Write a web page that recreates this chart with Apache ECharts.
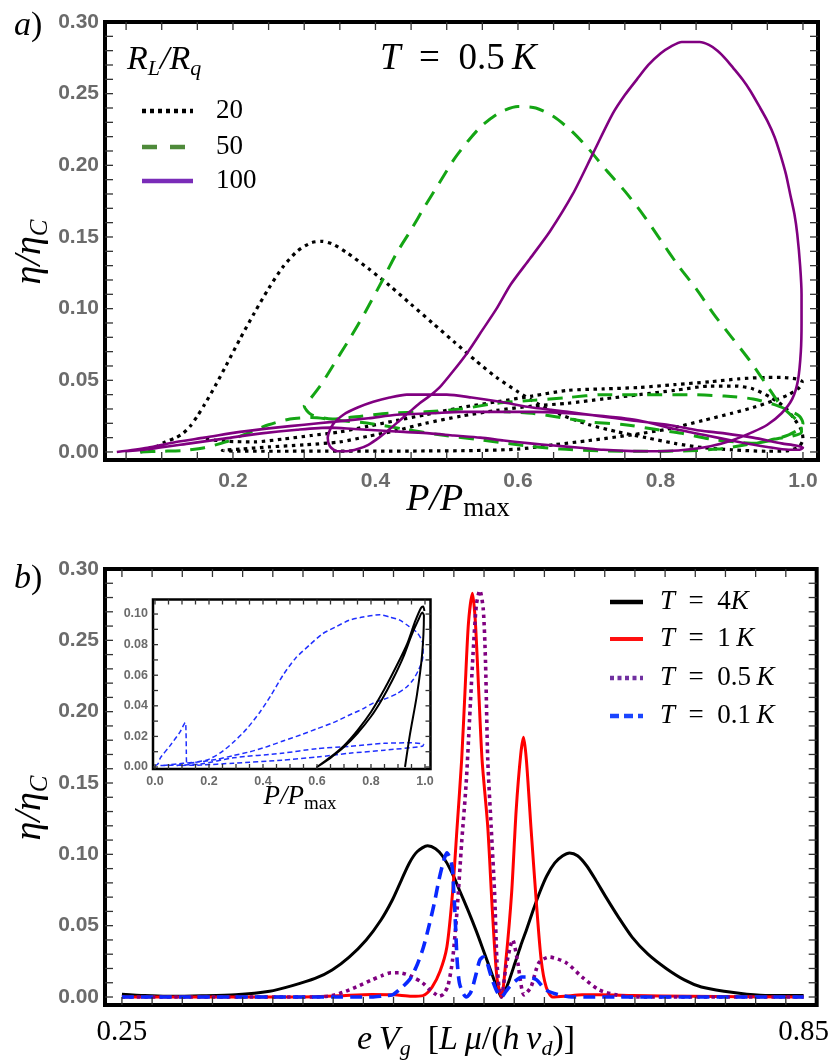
<!DOCTYPE html>
<html>
<head>
	<meta charset="utf-8">
	<title>eta vs P</title>
	<style type="text/css">
		html, body { margin: 0; padding: 0; background: #fff; }
		#main { width: 832px; height: 1063px; }
	</style>
	<script src="https://cdn.jsdelivr.net/npm/echarts@6/dist/echarts.min.js"></script>
</head>
<body>
	<div id="main"></div>
	<script type="text/javascript">

	// ---- panel a : eta/eta_C vs P/Pmax, T = 0.5 K ----
	var r20 = [
		[0.07,0.0],[0.09,0.003],[0.105,0.007],[0.12,0.010],[0.13,0.013],[0.14,0.018],[0.15,0.025],[0.16,0.033],
		[0.175,0.046],[0.19,0.060],[0.21,0.079],[0.23,0.097],[0.25,0.114],[0.27,0.129],[0.29,0.140],[0.31,0.146],
		[0.325,0.147],[0.34,0.145],[0.36,0.139],[0.39,0.128],[0.42,0.116],[0.45,0.103],[0.48,0.090],[0.51,0.077],
		[0.54,0.064],[0.57,0.052],[0.60,0.042],[0.63,0.033],[0.66,0.026],[0.70,0.019],[0.74,0.014],[0.78,0.010],
		[0.82,0.006],[0.86,0.003],[0.90,0.0015],[0.95,0.0005],[0.98,0.001],[0.995,0.004],[1.0,0.009],[0.998,0.015],
		[0.988,0.023],[0.975,0.031],[0.955,0.038],[0.93,0.044],[0.905,0.046],[0.87,0.046],[0.82,0.043],[0.77,0.040],
		[0.72,0.037],[0.67,0.034],[0.62,0.032],[0.57,0.029],[0.52,0.025],[0.47,0.020],[0.43,0.015],[0.39,0.011],
		[0.35,0.007],[0.30,0.005],[0.25,0.0035],[0.21,0.002],[0.185,0.001],[0.20,0.0006],[0.26,0.0005],[0.33,0.0006],
		[0.40,0.0006],[0.47,0.0007],[0.54,0.001],[0.60,0.002],[0.65,0.005],[0.70,0.008],[0.76,0.012],[0.81,0.016],
		[0.86,0.022],[0.90,0.027],[0.93,0.031],[0.96,0.036],[0.98,0.040],[0.995,0.045],[0.999,0.049],[0.99,0.051],
		[0.97,0.052],[0.95,0.052],[0.91,0.051],[0.87,0.049],[0.82,0.047],[0.77,0.045],[0.72,0.044],[0.67,0.043],
		[0.62,0.039],[0.57,0.035],[0.52,0.031],[0.47,0.026],[0.43,0.022],[0.39,0.018],[0.35,0.014],[0.31,0.0115],
		[0.27,0.009],[0.23,0.007],[0.19,0.0075],[0.16,0.009]
	];
	var r50 = [
		[0.07,0.0],[0.10,0.0005],[0.13,0.001],[0.16,0.003],[0.19,0.007],[0.22,0.013],[0.25,0.019],[0.28,0.023],
		[0.31,0.024],[0.35,0.022],[0.39,0.020],[0.44,0.016],[0.49,0.012],[0.54,0.009],[0.60,0.005],[0.66,0.002],
		[0.72,0.0008],[0.78,0.0005],[0.84,0.0008],[0.88,0.002],[0.92,0.005],[0.955,0.008],[0.98,0.012],[0.995,0.016],
		[1.0,0.020],[0.995,0.025],[0.98,0.029],[0.96,0.033],[0.93,0.037],[0.89,0.039],[0.84,0.040],[0.78,0.040],
		[0.72,0.040],[0.67,0.038],[0.62,0.036],[0.57,0.034],[0.52,0.030],[0.47,0.028],[0.42,0.027],[0.38,0.025],
		[0.34,0.023],[0.31,0.026],[0.30,0.032],[0.31,0.038],[0.325,0.048],[0.345,0.064],[0.365,0.080],[0.385,0.097],
		[0.41,0.120],[0.43,0.139],[0.45,0.155],[0.47,0.172],[0.49,0.188],[0.51,0.204],[0.53,0.217],[0.55,0.228],
		[0.575,0.237],[0.60,0.241],[0.625,0.240],[0.65,0.234],[0.675,0.224],[0.70,0.211],[0.725,0.196],[0.75,0.182],
		[0.775,0.166],[0.80,0.148],[0.825,0.130],[0.85,0.114],[0.875,0.096],[0.90,0.080],[0.925,0.064],[0.95,0.046],
		[0.968,0.033],[0.985,0.025],[0.996,0.020],[0.998,0.014],[0.985,0.011],[0.96,0.009],[0.935,0.006],[0.905,0.007],
		[0.87,0.009],[0.83,0.013],[0.79,0.016],[0.75,0.019],[0.70,0.021],[0.66,0.024],[0.62,0.027],[0.58,0.028]
	];
	var r100 = [
		[0.037,0.0],[0.08,0.003],[0.12,0.007],[0.16,0.010],[0.21,0.014],[0.26,0.017],[0.30,0.019],[0.34,0.021],
		[0.39,0.0235],[0.43,0.026],[0.48,0.027],[0.52,0.028],[0.57,0.028],[0.62,0.028],[0.67,0.027],[0.72,0.025],
		[0.77,0.022],[0.82,0.016],[0.86,0.012],[0.91,0.007],[0.95,0.0035],[0.98,0.0015],[0.995,0.0015],[1.0,0.003],
		[0.99,0.0045],[0.97,0.006],[0.93,0.010],[0.89,0.013],[0.855,0.015],[0.81,0.019],[0.76,0.022],[0.715,0.025],
		[0.67,0.028],[0.62,0.031],[0.575,0.035],[0.535,0.038],[0.50,0.040],[0.47,0.040],[0.444,0.040],[0.42,0.038],
		[0.397,0.035],[0.375,0.031],[0.355,0.026],[0.34,0.019],[0.333,0.010],[0.336,0.004],[0.346,0.0005],[0.36,0.0005],
		[0.375,0.002],[0.39,0.005],[0.405,0.010],[0.42,0.016],[0.434,0.022],[0.448,0.028],[0.462,0.034],[0.476,0.039],
		[0.49,0.045],[0.51,0.057],[0.53,0.070],[0.55,0.085],[0.57,0.100],[0.59,0.117],[0.617,0.135],[0.645,0.154],
		[0.677,0.180],[0.705,0.208],[0.733,0.236],[0.75,0.249],[0.767,0.260],[0.783,0.270],[0.80,0.278],[0.815,0.283],
		[0.83,0.286],[0.855,0.286],[0.868,0.284],[0.88,0.280],[0.892,0.274],[0.902,0.268],[0.915,0.260],[0.926,0.252],
		[0.94,0.240],[0.95,0.231],[0.96,0.220],[0.968,0.208],[0.976,0.194],[0.982,0.180],[0.988,0.166],[0.992,0.152],
		[0.996,0.130],[0.998,0.110],[0.998,0.090],[0.997,0.070],[0.993,0.050],[0.985,0.037],[0.97,0.027],[0.95,0.019],
		[0.93,0.014],[0.90,0.008],[0.87,0.004],[0.835,0.0015],[0.80,0.0005],[0.76,0.0006],[0.72,0.0015],[0.687,0.003],
		[0.65,0.0045],[0.617,0.006],[0.58,0.008],[0.547,0.010],[0.51,0.0115],[0.476,0.013],[0.44,0.014],[0.406,0.015],
		[0.37,0.016],[0.336,0.017],[0.29,0.0155],[0.24,0.013],[0.19,0.0095],[0.14,0.006],[0.09,0.0025],[0.05,0.0005]
	];

	// ---- panel b : eta/eta_C vs e Vg ----
	var t4K = [
		[0.25,0.002],[0.27,0.001],[0.29,0.0005],[0.32,0.0008],[0.35,0.0015],[0.38,0.004],[0.40,0.008],[0.42,0.013],
		[0.435,0.019],[0.45,0.028],[0.465,0.040],[0.478,0.054],[0.488,0.068],[0.496,0.082],[0.503,0.094],[0.51,0.102],
		[0.519,0.106],[0.526,0.104],[0.532,0.099],[0.54,0.088],[0.547,0.075],[0.555,0.060],[0.562,0.046],[0.568,0.033],
		[0.573,0.022],[0.578,0.011],[0.582,0.003],[0.584,0.0],[0.587,0.004],[0.591,0.012],[0.596,0.024],[0.601,0.036],
		[0.606,0.047],[0.612,0.061],[0.618,0.074],[0.624,0.085],[0.631,0.094],[0.638,0.099],[0.644,0.101],[0.651,0.099],
		[0.659,0.092],[0.667,0.082],[0.676,0.070],[0.687,0.056],[0.699,0.042],[0.713,0.030],[0.729,0.020],[0.745,0.012],
		[0.76,0.007],[0.78,0.004],[0.80,0.002],[0.82,0.001],[0.85,0.001]
	];
	var t1K = [
		[0.25,0.0],[0.40,0.0],[0.44,0.0008],[0.47,0.0018],[0.49,0.0015],[0.505,0.0005],[0.515,0.001],[0.523,0.007],
		[0.530,0.018],[0.536,0.035],[0.541,0.073],[0.545,0.119],[0.549,0.166],[0.552,0.215],[0.555,0.262],[0.5585,0.283],
		[0.561,0.264],[0.564,0.215],[0.567,0.166],[0.572,0.119],[0.576,0.061],[0.580,0.014],[0.584,0.0],[0.588,0.026],
		[0.593,0.073],[0.597,0.131],[0.601,0.170],[0.6035,0.182],[0.606,0.166],[0.610,0.119],[0.6146,0.068],[0.619,0.026],
		[0.6234,0.007],[0.629,0.0],[0.64,0.0005],[0.655,0.0015],[0.67,0.0015],[0.70,0.001],[0.75,0.0005],[0.85,0.0]
	];
	var t05K = [
		[0.25,0.0],[0.42,0.0],[0.435,0.001],[0.447,0.004],[0.459,0.008],[0.47,0.012],[0.479,0.015],[0.487,0.017],
		[0.494,0.017],[0.50,0.016],[0.506,0.014],[0.5145,0.010],[0.521,0.005],[0.526,0.002],[0.529,0.0005],[0.533,0.002],
		[0.537,0.008],[0.541,0.026],[0.545,0.061],[0.549,0.108],[0.553,0.150],[0.556,0.195],[0.559,0.240],[0.562,0.275],
		[0.565,0.285],[0.568,0.272],[0.570,0.235],[0.572,0.166],[0.575,0.119],[0.578,0.073],[0.580,0.026],[0.582,0.006],
		[0.584,0.0],[0.588,0.021],[0.594,0.040],[0.598,0.026],[0.604,0.0015],[0.61,0.007],[0.617,0.024],[0.626,0.028],
		[0.641,0.024],[0.655,0.014],[0.67,0.005],[0.685,0.0015],[0.70,0.0],[0.85,0.0]
	];
	var t01K = [
		[0.25,0.0],[0.47,0.0],[0.48,0.0008],[0.488,0.0015],[0.494,0.005],[0.503,0.012],[0.509,0.021],[0.515,0.034],
		[0.520,0.049],[0.525,0.066],[0.529,0.082],[0.533,0.095],[0.536,0.101],[0.539,0.097],[0.541,0.089],[0.542,0.075],
		[0.543,0.061],[0.545,0.026],[0.547,0.010],[0.550,0.003],[0.553,0.0],[0.556,0.002],[0.558,0.005],[0.562,0.017],
		[0.565,0.026],[0.568,0.028],[0.571,0.025],[0.574,0.017],[0.576,0.012],[0.580,0.004],[0.584,0.0],[0.588,0.004],
		[0.591,0.007],[0.596,0.011],[0.602,0.014],[0.608,0.014],[0.615,0.012],[0.623,0.005],[0.635,0.0015],[0.646,0.0],
		[0.85,0.0]
	];

	// ---- inset : eta/eta_C vs P/Pmax for T = 0.1 K and T = 4 K ----
	var inset01K = [
		[0.0,0.0008],[0.011,0.002],[0.02,0.006],[0.056,0.014],[0.093,0.023],[0.112,0.029],[0.115,0.022],[0.116,0.010],
		[0.117,0.003],[0.125,0.0025],[0.16,0.0035],[0.193,0.0046],[0.24,0.009],[0.289,0.016],[0.34,0.025],[0.389,0.036],
		[0.43,0.047],[0.474,0.060],[0.52,0.071],[0.574,0.080],[0.62,0.087],[0.674,0.092],[0.72,0.096],[0.77,0.098],
		[0.833,0.0995],[0.87,0.098],[0.907,0.096],[0.94,0.092],[0.97,0.088],[0.985,0.084],[0.993,0.080],[0.993,0.074],
		[0.989,0.069],[0.975,0.063],[0.956,0.057],[0.93,0.052],[0.896,0.048],[0.86,0.045],[0.81,0.042],[0.77,0.038],
		[0.72,0.034],[0.66,0.029],[0.60,0.025],[0.54,0.021],[0.474,0.017],[0.41,0.013],[0.352,0.010],[0.29,0.0075],
		[0.23,0.005],[0.17,0.0035],[0.104,0.0024],[0.04,0.0012],[0.02,0.001],[0.08,0.0012],[0.17,0.002],[0.29,0.006],
		[0.47,0.009],[0.60,0.012],[0.72,0.0135],[0.85,0.0155],[0.95,0.0158],[0.995,0.0148],[0.99,0.0135],[0.85,0.011],
		[0.72,0.009],[0.60,0.0065],[0.47,0.0045],[0.29,0.0025],[0.17,0.0013],[0.08,0.001]
	];
	var inset4K = [
		[0.926,0.0],[0.944,0.021],[0.97,0.047],[0.989,0.073],[0.996,0.099],[0.99,0.101],[0.975,0.096],[0.95,0.086],
		[0.92,0.072],[0.88,0.057],[0.84,0.044],[0.80,0.033],[0.75,0.022],[0.70,0.013],[0.65,0.006],[0.60,0.0],
		[0.65,0.0065],[0.70,0.014],[0.75,0.024],[0.80,0.036],[0.85,0.051],[0.90,0.068],[0.935,0.081],[0.963,0.095],
		[0.985,0.104],[0.993,0.105],[0.998,0.102]
	];

	// tick labels
	var labelsAx = [0.2, 0.4, 0.6, 0.8, 1.0];
	var labelsY = [0, 0.05, 0.10, 0.15, 0.20, 0.25, 0.30];
	var labelsBx = [0.25, 0.85];
	var labelsInX = [0, 0.2, 0.4, 0.6, 0.8, 1.0];
	var labelsInY = [0, 0.02, 0.04, 0.06, 0.08, 0.10];

	function steps(start, step, n) {
		var out = [];
		for (var k = 0; k <= n; k++) out.push(+(start + k * step).toFixed(5));
		return out;
	}
	var ticksAx = steps(0.05, 0.05, 19);
	var ticksY = steps(0, 0.01, 29);
	var ticksBx = steps(0.25, 0.02656, 22);
	var ticksInX = steps(0, 0.05, 20);
	var ticksInY = steps(0, 0.01, 10);

	var SERIF = "'Liberation Serif', 'DejaVu Serif', serif";
	var SANS = "'Liberation Sans', Arial, sans-serif";
	var GRAY = '#6b6b6b';

	function axis(grid, pos, min, max, labels, labelOpt) {
		var a = {
			gridIndex: grid, type: 'value', position: pos, min: min, max: max,
			axisLine: { show: false, onZero: false },
			axisTick: { show: false },
			splitLine: { show: false },
			axisLabel: { show: false }
		};
		if (labels) {
			a.axisLabel = Object.assign({ show: true, customValues: labels }, labelOpt);
		}
		return a;
	}
	var boldLabel = { color: GRAY, fontFamily: SANS, fontWeight: 'bold', fontSize: 21 };
	var smallLabel = { color: GRAY, fontFamily: SANS, fontWeight: 'bold', fontSize: 12.5 };

	var xA = [0.0204, 1.0211], yA = [-0.0056, 0.30];
	var xB = [0.2351, 0.8615], yB = [-0.0056, 0.30];
	var xI = [-0.0074, 1.0204], yI = [-0.0013, 0.1095];

	var xAxes = [
		axis(0, 'bottom', xA[0], xA[1], labelsAx, Object.assign({ margin: 11, formatter: function (v) { return v.toFixed(1); } }, boldLabel)),
		axis(1, 'bottom', xB[0], xB[1], labelsBx, { margin: 13, color: '#000', fontFamily: SERIF, fontSize: 29, formatter: function (v) { return v.toFixed(2); } }),
		axis(2, 'bottom', xI[0], xI[1], labelsInX, Object.assign({ margin: 6, formatter: function (v) { return v.toFixed(1); } }, smallLabel))
	];
	var yAxes = [
		axis(0, 'left', yA[0], yA[1], labelsY, Object.assign({ margin: 6, formatter: function (v) { return v.toFixed(2); } }, boldLabel)),
		axis(1, 'left', yB[0], yB[1], labelsY, Object.assign({ margin: 6, formatter: function (v) { return v.toFixed(2); } }, boldLabel)),
		axis(2, 'left', yI[0], yI[1], labelsInY, Object.assign({ margin: 5, formatter: function (v) { return v.toFixed(2); } }, smallLabel))
	];

	function curve(data, idx, color, width, type) {
		return {
			type: 'line', xAxisIndex: idx, yAxisIndex: idx, data: data,
			showSymbol: false, symbol: 'none', smooth: 0.25, clip: true, silent: true,
			lineStyle: { color: color, width: width, type: type || 'solid', cap: 'butt', join: 'round' }
		};
	}

	var series = [
		curve(r20, 0, '#000', 3.2, [3.5, 4.5]),
		curve(r50, 0, '#14a514', 3, [15, 10]),
		curve(r100, 0, '#800080', 2.6),
		curve(t4K, 1, '#000', 3),
		curve(t1K, 1, '#ff0000', 3),
		curve(t05K, 1, '#800080', 3.6, [3.5, 4]),
		curve(t01K, 1, '#0a28ff', 3.6, [12, 7]),
		curve(inset01K, 2, '#1f2fff', 1.5, [5, 3]),
		curve(inset4K, 2, '#000', 2)
	];

	// math-like labels
	function mathText(x, y, text, rich, extra) {
		return Object.assign({
			type: 'text', x: x, y: y, z: 10,
			style: { text: text, align: 'left', verticalAlign: 'middle', fill: '#000', rich: rich }
		}, extra || {});
	}
	function styles(size, subSize) {
		return {
			i: { fontSize: size, fontFamily: SERIF, fontStyle: 'italic', lineHeight: size * 1.2, fill: '#000' },
			n: { fontSize: size, fontFamily: SERIF, lineHeight: size * 1.2, fill: '#000' },
			s: { fontSize: subSize, fontFamily: SERIF, fontStyle: 'italic', lineHeight: subSize, verticalAlign: 'bottom', fill: '#000' },
			r: { fontSize: subSize, fontFamily: SERIF, lineHeight: subSize, verticalAlign: 'bottom', fill: '#000' }
		};
	}
	function legendLine(x1, x2, y, color, width, dash) {
		return { type: 'line', z: 10, shape: { x1: x1, y1: y, x2: x2, y2: y },
			style: { stroke: color, lineWidth: width, lineDash: dash || null, lineCap: 'butt' } };
	}

	var graphics = [
		mathText(14, 26, '{i|a}{n|)}', styles(34, 22)),
		mathText(14, 579, '{i|b}{n|)}', styles(34, 22)),
		mathText(127, 60, '{i|R}{s|L}{i|/R}{s|q}', styles(34, 22)),
		mathText(380, 59, '{i|T}{n|\u2002=\u20020.5\u2009}{i|K}', styles(37, 22)),
		legendLine(142, 193, 111, '#000', 4.5, [4, 4]),
		legendLine(142, 193, 147, '#4e8a3a', 4.5, [15, 13]),
		legendLine(142, 193, 181, '#7a2cb8', 4.5),
		mathText(216, 111, '{n|20}', styles(27, 18)),
		mathText(216, 147, '{n|50}', styles(27, 18)),
		mathText(216, 181, '{n|100}', styles(27, 18)),
		mathText(30, 252, '', null, { rotation: Math.PI / 2, style: { text: '{i|\u03b7/\u03b7}{s|C}', align: 'center', verticalAlign: 'middle', rich: styles(38, 25) } }),
		mathText(458, 500, '', null, { style: { text: '{i|P/P}{r|max}', align: 'center', verticalAlign: 'middle', rich: styles(38, 27) } }),
		legendLine(610, 643, 602, '#000', 4.5),
		legendLine(610, 643, 639, '#ff1010', 4),
		legendLine(610, 643, 678, '#7030a0', 4.5, [4, 3.5]),
		legendLine(610, 643, 716, '#1a45ff', 4.5, [9, 5]),
		mathText(660, 602, '{i|T}{n|\u2002=\u20024}{i|K}', styles(27, 18)),
		mathText(660, 639, '{i|T}{n|\u2002=\u20021\u2009}{i|K}', styles(27, 18)),
		mathText(660, 678, '{i|T}{n|\u2002=\u20020.5\u2009}{i|K}', styles(27, 18)),
		mathText(660, 716, '{i|T}{n|\u2002=\u20020.1\u2009}{i|K}', styles(27, 18)),
		mathText(30, 808, '', null, { rotation: Math.PI / 2, style: { text: '{i|\u03b7/\u03b7}{s|C}', align: 'center', verticalAlign: 'middle', rich: styles(38, 25) } }),
		mathText(466, 1040, '', null, { style: { text: '{i|e\u2009V}{s|g}{n|\u2002[}{i|L\u2009\u03bc}{n|/(}{i|h\u2009v}{s|d}{n|)]}', align: 'center', verticalAlign: 'middle', rich: styles(34, 22) } }),
		mathText(300, 797, '', null, { style: { text: '{i|P/P}{r|max}', align: 'center', verticalAlign: 'middle', rich: styles(27, 19) } })
	];

	var option = {
		animation: false,
		grid: [
			{ left: 105, top: 22, width: 713, height: 438, show: true, borderColor: '#000', borderWidth: 4 },
			{ left: 105, top: 569, width: 713, height: 436, show: true, borderColor: '#000', borderWidth: 4 },
			{ left: 153, top: 599.5, width: 277.5, height: 169.5, show: true, borderColor: '#000', borderWidth: 2.5, backgroundColor: '#fff' }
		],
		xAxis: xAxes,
		yAxis: yAxes,
		series: series,
		graphic: graphics
	};

	var myChart = echarts.init(document.getElementById('main'));
	myChart.setOption(option);

	// inward frame ticks: positions come from the chart's own scales
	function frameTicks(idx, xr, yr, tx, ty, len) {
		var out = [];
		var finder = { xAxisIndex: idx, yAxisIndex: idx };
		function seg(p, dx, dy) {
			out.push({ type: 'line', z: 9, shape: { x1: p[0], y1: p[1], x2: p[0] + dx, y2: p[1] + dy },
				style: { stroke: '#333', lineWidth: 1.3 } });
		}
		tx.forEach(function (v) {
			seg(myChart.convertToPixel(finder, [v, yr[0]]), 0, -len);
			seg(myChart.convertToPixel(finder, [v, yr[1]]), 0, len);
		});
		ty.forEach(function (v) {
			seg(myChart.convertToPixel(finder, [xr[0], v]), len, 0);
			seg(myChart.convertToPixel(finder, [xr[1], v]), -len, 0);
		});
		return out;
	}
	var tickMarks = []
		.concat(frameTicks(0, xA, yA, ticksAx, ticksY, 8))
		.concat(frameTicks(1, xB, yB, ticksBx, ticksY, 8))
		.concat(frameTicks(2, xI, yI, ticksInX, ticksInY, 5));
	myChart.setOption({ graphic: graphics.concat(tickMarks) });

	</script>
</body>
</html>
